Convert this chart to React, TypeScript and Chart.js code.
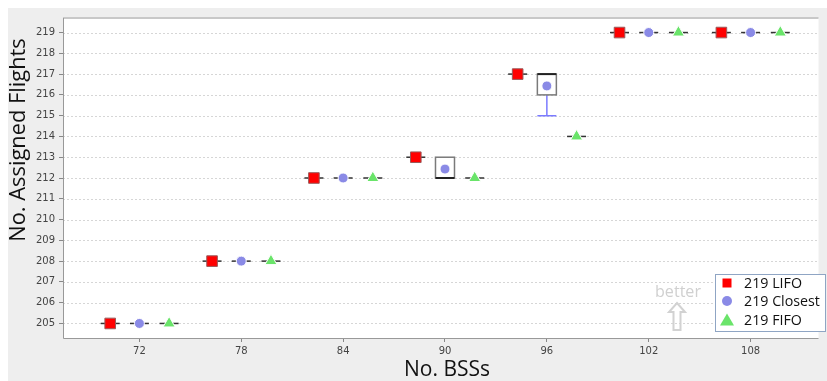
import React, { useEffect, useRef } from 'react';
import { Chart, registerables } from 'chart.js';

Chart.register(...registerables);

// ---- data ----
const bss = [72, 78, 84, 90, 96, 102, 108];
const yTickValues = [205, 206, 207, 208, 209, 210, 211, 212, 213, 214, 215, 216, 217, 218, 219];
const lifo = [205, 208, 212, 213, 217, 219, 219];
const closestMean = [205, 208, 212, 212.43, 216.43, 219, 219];
const closestQ1 = [205, 208, 212, 212, 216, 219, 219];
const closestQ3 = [205, 208, 212, 213, 217, 219, 219];
const closestMedian = [205, 208, 212, 212, 217, 219, 219];
const closestMin = [205, 208, 212, 212, 215, 219, 219];
const closestMax = [205, 208, 212, 213, 217, 219, 219];
const fifo = [205, 208, 212, 212, 214, 219, 219];
const seriesNames = ['219 LIFO', '219 Closest', '219 FIFO'];
const xTitle = 'No. BSSs';
const yTitle = 'No. Assigned Flights';
const noteText = 'better';

// ---- styles ----
const DODGE_L = 1.72;
const DODGE_R = 1.75;
const RED = '#ff0000';
const BLUE = '#8a8ae6';
const GREEN = '#6ae46a';
const WHISKER = '#7b7bff';
const TITLE_FONT = '"Open Sans"';

function fitFont(ctx: CanvasRenderingContext2D, text: string, target: number, family: string, base: number) {
  ctx.font = `${base}px ${family}`;
  const w = ctx.measureText(text).width;
  const size = Math.min(base * 1.15, Math.max(base * 0.85, (base * target) / w));
  return `${size.toFixed(2)}px ${family}`;
}

export default function App() {
  const ref = useRef<HTMLCanvasElement | null>(null);

  useEffect(() => {
    document.documentElement.style.overflow = 'hidden';
    document.body.style.margin = '0';
    const canvas = ref.current;
    if (!canvas) return;

    const decor = {
      id: 'decor',
      beforeDraw(chart: any) {
        const { ctx, chartArea: a, width, height } = chart;
        ctx.save();
        ctx.fillStyle = '#eeeeee';
        ctx.fillRect(0, 0, width, height);
        ctx.fillStyle = '#ffffff';
        ctx.fillRect(a.left, a.top, a.right - a.left, a.bottom - a.top);
        ctx.restore();
      },
      beforeDatasetsDraw(chart: any) {
        const { ctx, chartArea: a } = chart;
        const xs = chart.scales.x;
        const ys = chart.scales.y;
        ctx.save();
        // dotted horizontal grid
        ctx.strokeStyle = '#d6d6d6';
        ctx.lineWidth = 1;
        ctx.setLineDash([2, 2]);
        yTickValues.forEach((v) => {
          const py = Math.round(ys.getPixelForValue(v)) + 0.5;
          ctx.beginPath();
          ctx.moveTo(a.left, py);
          ctx.lineTo(a.right, py);
          ctx.stroke();
        });
        ctx.setLineDash([]);

        const half = 9.5;
        const flat = (xv: number, yv: number) => {
          const px = xs.getPixelForValue(xv);
          const py = ys.getPixelForValue(yv);
          ctx.strokeStyle = '#333333';
          ctx.lineWidth = 1.5;
          ctx.beginPath();
          ctx.moveTo(px - half, py);
          ctx.lineTo(px + half, py);
          ctx.stroke();
        };
        bss.forEach((b, i) => {
          flat(b - DODGE_L, lifo[i]);
          flat(b + DODGE_R, fifo[i]);
          const px = xs.getPixelForValue(b);
          if (closestQ3[i] > closestQ1[i]) {
            const yq1 = ys.getPixelForValue(closestQ1[i]);
            const yq3 = ys.getPixelForValue(closestQ3[i]);
            ctx.strokeStyle = WHISKER;
            ctx.lineWidth = 1.5;
            if (closestMin[i] < closestQ1[i]) {
              const ym = ys.getPixelForValue(closestMin[i]);
              ctx.beginPath();
              ctx.moveTo(px, yq1);
              ctx.lineTo(px, ym);
              ctx.moveTo(px - half, ym);
              ctx.lineTo(px + half, ym);
              ctx.stroke();
            }
            if (closestMax[i] > closestQ3[i]) {
              const yM = ys.getPixelForValue(closestMax[i]);
              ctx.beginPath();
              ctx.moveTo(px, yq3);
              ctx.lineTo(px, yM);
              ctx.moveTo(px - half, yM);
              ctx.lineTo(px + half, yM);
              ctx.stroke();
            }
            ctx.strokeStyle = '#7a7a7a';
            ctx.lineWidth = 1.5;
            ctx.strokeRect(px - half, yq3, 2 * half, yq1 - yq3);
            const ymed = ys.getPixelForValue(closestMedian[i]);
            ctx.strokeStyle = '#222222';
            ctx.lineWidth = 2;
            ctx.beginPath();
            ctx.moveTo(px - half, ymed);
            ctx.lineTo(px + half, ymed);
            ctx.stroke();
          } else {
            flat(b, closestMean[i]);
          }
        });
        ctx.restore();
      },
      afterDraw(chart: any) {
        const { ctx, chartArea: a } = chart;
        ctx.save();
        // frame
        ctx.strokeStyle = '#c8c8c8';
        ctx.lineWidth = 2;
        ctx.beginPath();
        ctx.moveTo(a.left, a.top);
        ctx.lineTo(a.right, a.top);
        ctx.stroke();
        ctx.strokeStyle = '#999999';
        ctx.lineWidth = 1;
        ctx.beginPath();
        ctx.moveTo(a.left + 0.5, a.top);
        ctx.lineTo(a.left + 0.5, a.bottom + 0.5);
        ctx.lineTo(a.right, a.bottom + 0.5);
        ctx.stroke();

        // axis titles
        ctx.fillStyle = '#111111';
        ctx.textAlign = 'center';
        ctx.textBaseline = 'middle';
        ctx.font = fitFont(ctx, xTitle, 86, TITLE_FONT, 22);
        ctx.fillText(xTitle, 439, 362);
        ctx.save();
        ctx.translate(11, 132);
        ctx.rotate(-Math.PI / 2);
        ctx.font = fitFont(ctx, yTitle, 213, TITLE_FONT, 19);
        ctx.fillText(yTitle, 0, 0);
        ctx.restore();

        // "better" note with hollow arrow
        ctx.fillStyle = '#d0d0d0';
        ctx.font = fitFont(ctx, noteText, 46, TITLE_FONT, 15);
        ctx.fillText(noteText, 670, 284);
        const ax = 669, top = 295, bot = 322;
        ctx.strokeStyle = '#d2d2d2';
        ctx.lineWidth = 2;
        ctx.beginPath();
        ctx.moveTo(ax, top);
        ctx.lineTo(ax + 8, top + 9);
        ctx.lineTo(ax + 3.5, top + 9);
        ctx.lineTo(ax + 3.5, bot);
        ctx.lineTo(ax - 3.5, bot);
        ctx.lineTo(ax - 3.5, top + 9);
        ctx.lineTo(ax - 8, top + 9);
        ctx.closePath();
        ctx.stroke();

        // legend
        const lx = 707, ly = 266, lw = 111, lh = 58;
        ctx.fillStyle = '#ffffff';
        ctx.fillRect(lx, ly, lw, lh);
        ctx.strokeStyle = '#8fa5c4';
        ctx.lineWidth = 1;
        ctx.strokeRect(lx + 0.5, ly + 0.5, lw - 1, lh - 1);
        const mx = 719;
        const rows = [275, 293, 312];
        ctx.fillStyle = RED;
        ctx.fillRect(mx - 4.5, rows[0] - 4.5, 9, 9);
        ctx.fillStyle = BLUE;
        ctx.beginPath();
        ctx.arc(mx, rows[1], 5, 0, Math.PI * 2);
        ctx.fill();
        ctx.fillStyle = GREEN;
        ctx.beginPath();
        ctx.moveTo(mx, rows[2] - 6.5);
        ctx.lineTo(mx + 7, rows[2] + 5.5);
        ctx.lineTo(mx - 7, rows[2] + 5.5);
        ctx.closePath();
        ctx.fill();
        ctx.fillStyle = '#111111';
        ctx.textAlign = 'left';
        ctx.font = fitFont(ctx, seriesNames[1], 76, TITLE_FONT, 14);
        seriesNames.forEach((n, i) => ctx.fillText(n, 736, rows[i] + 1));
        ctx.restore();
      },
    };

    const chart = new Chart(canvas, {
      type: 'scatter',
      data: {
        datasets: [
          {
            label: seriesNames[0],
            data: bss.map((b, i) => ({ x: b - DODGE_L, y: lifo[i] })),
            pointStyle: 'rect',
            pointRadius: 7.5,
            backgroundColor: RED,
            borderColor: '#9a5a5a',
            borderWidth: 1,
          },
          {
            label: seriesNames[1],
            data: bss.map((b, i) => ({ x: b, y: closestMean[i] })),
            pointStyle: 'circle',
            pointRadius: 5,
            backgroundColor: BLUE,
            borderColor: '#ffffff',
            borderWidth: 1,
          },
          {
            label: seriesNames[2],
            data: bss.map((b, i) => ({ x: b + DODGE_R, y: fifo[i] })),
            pointStyle: 'triangle',
            pointRadius: 7,
            backgroundColor: GREEN,
            borderColor: '#ffffff',
            borderWidth: 1,
          },
        ],
      },
      options: {
        responsive: false,
        animation: false,
        layout: { padding: { top: 6, left: 0, right: 0, bottom: 0 } },
        plugins: { legend: { display: false }, tooltip: { enabled: false } },
        scales: {
          x: {
            type: 'linear',
            min: 67.5,
            max: 112,
            afterBuildTicks: (s: any) => {
              s.ticks = bss.map((v) => ({ value: v }));
            },
            afterFit: (s: any) => {
              s.height = 43;
            },
            grid: { drawOnChartArea: false, drawTicks: true, tickLength: 4, color: '#888888' },
            border: { display: false },
            ticks: { padding: 3, color: '#444444', font: { family: 'DejaVu Sans', size: 10 }, maxRotation: 0 },
          },
          y: {
            type: 'linear',
            min: 204.3,
            max: 219.7,
            afterBuildTicks: (s: any) => {
              s.ticks = yTickValues.map((v) => ({ value: v }));
            },
            afterFit: (s: any) => {
              s.width = 55;
            },
            grid: { drawOnChartArea: false, drawTicks: true, tickLength: 4, color: '#888888' },
            border: { display: false },
            ticks: { padding: 4, color: '#444444', font: { family: 'DejaVu Sans', size: 10 } },
          },
        },
      },
      plugins: [decor],
    });
    return () => chart.destroy();
  }, []);

  return (
    <div
      style={{
        width: 827,
        height: 381,
        paddingLeft: 8,
        paddingTop: 8,
        boxSizing: 'border-box',
        overflow: 'hidden',
        background: '#ffffff',
      }}
    >
      <canvas ref={ref} width={819} height={373} style={{ display: 'block', width: 819, height: 373 }} />
    </div>
  );
}
